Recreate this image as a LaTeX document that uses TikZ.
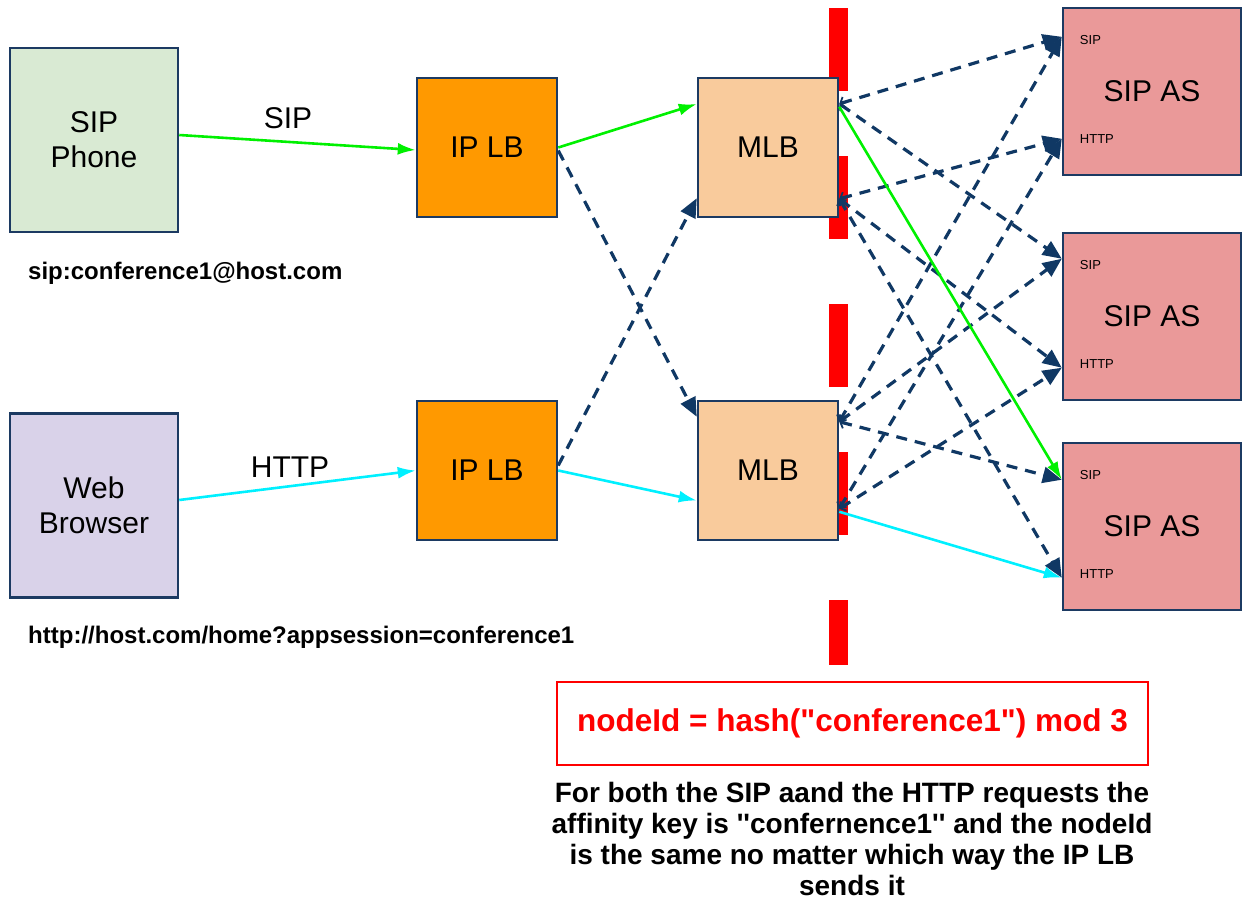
\documentclass[tikz,border=0pt]{standalone}
\usepackage{fontspec}
\setmainfont{Liberation Sans}[Ligatures=TeXOff]
\usetikzlibrary{arrows.meta,calc}

\definecolor{edgeblue}{RGB}{28,58,98}
\definecolor{linkblue}{RGB}{16,56,100}
\definecolor{phonefill}{RGB}{217,234,211}
\definecolor{webfill}{RGB}{217,210,233}
\definecolor{iplbfill}{RGB}{255,153,0}
\definecolor{mlbfill}{RGB}{249,203,156}
\definecolor{asfill}{RGB}{234,153,153}
\definecolor{sipgreen}{RGB}{0,240,0}
\definecolor{httpcyan}{RGB}{0,240,255}
\definecolor{keyred}{RGB}{255,0,0}

\tikzset{
  box/.style={draw=edgeblue, line width=2.5pt, align=center,
    font=\fontsize{30}{35}\selectfont, inner sep=0pt},
  clientbox/.style={box, minimum width=168pt, minimum height=184pt},
  lbbox/.style={box, fill=iplbfill, minimum width=140pt, minimum height=139pt},
  mlbbox/.style={box, fill=mlbfill, minimum width=140pt, minimum height=139pt},
  asbox/.style={box, fill=asfill, minimum width=178pt, minimum height=167pt},
  portlbl/.style={anchor=west, inner sep=0pt, font=\fontsize{13}{13}\selectfont},
  flowlbl/.style={inner sep=0pt, font=\fontsize{30}{30}\selectfont},
  addrlbl/.style={anchor=west, inner sep=0pt, font=\bfseries\fontsize{24}{24}\selectfont},
  sipflow/.style={draw=sipgreen, line width=2.6pt, -{Latex[length=18pt,width=12pt]}},
  httpflow/.style={draw=httpcyan, line width=2.6pt, -{Latex[length=18pt,width=12pt]}},
  altflow/.style={draw=linkblue, line width=3.2pt, dash pattern=on 11pt off 8pt,
    -{Triangle[length=19pt,width=16pt]}},
  asflow/.style={altflow, {Straight Barb[length=4pt,width=11pt,line width=1.8pt]}-{Triangle[length=19pt,width=16pt]}},
  redbar/.style={draw=keyred, line width=19pt, dash pattern=on 83pt off 65pt},
}

\begin{document}
\begin{tikzpicture}[x=1pt,y=-1pt]
\useasboundingbox (0,0) rectangle (1244,903);

% partition marker behind the MLB column
\draw[redbar] (838.5,8) -- (838.5,665);

% clients
\node[clientbox, fill=phonefill] (phone) at (94,140) {SIP\\Phone};
\node[clientbox, fill=webfill] (web) at (94,505.5) {Web\\Browser};

% IP load balancers
\node[lbbox] (iplb1) at (487,147.5) {IP LB};
\node[lbbox] (iplb2) at (487,470.5) {IP LB};

% message load balancers
\node[mlbbox] (mlb1) at (768,147.5) {MLB};
\node[mlbbox] (mlb2) at (768,470.5) {MLB};

% application servers
\node[asbox] (as1) at (1152,91.5) {SIP AS};
\node[asbox] (as2) at (1152,316.5) {SIP AS};
\node[asbox] (as3) at (1152,526.5) {SIP AS};

\foreach \s in {as1,as2,as3}{
  \node[portlbl] (\s sl) at ($(\s.north west)+(18,33)$) {SIP};
  \node[portlbl] (\s hl) at ($(\s.north west)+(18,132)$) {HTTP};
}

% port coordinates
\coordinate (as1sip)  at ($(as1.north west)+(0,30)$);
\coordinate (as1http) at ($(as1.north west)+(0,132)$);
\coordinate (as2sip)  at ($(as2.north west)+(0,27)$);
\coordinate (as2http) at ($(as2.north west)+(0,136)$);
\coordinate (as3sip)  at ($(as3.north west)+(0,38)$);
\coordinate (as3http) at ($(as3.north west)+(0,136)$);

\coordinate (m1s) at ($(mlb1.north east)+(0,27)$);
\coordinate (m1h) at ($(mlb1.north east)+(0,122)$);
\coordinate (m2s) at ($(mlb2.north east)+(0,22)$);
\coordinate (m2h) at ($(mlb2.north east)+(0,109)$);

% alternative IP LB routes
\draw[altflow] ([yshift=-3pt]iplb1.east) -- ([yshift=-17pt]mlb2.north west);
\draw[altflow] ([yshift=5pt]iplb2.east) -- ([yshift=20pt]mlb1.south west);

% MLB to application server routes
\draw[asflow] (m1s) -- (as1sip);
\draw[asflow] (m1s) -- (as2sip);
\draw[asflow] (m1h) -- (as1http);
\draw[asflow] (m1h) -- (as2http);
\draw[asflow] (m1h) -- (as3http);
\draw[asflow] (m2s) -- (as1sip);
\draw[asflow] (m2s) -- (as2sip);
\draw[asflow] (m2s) -- (as3sip);
\draw[asflow] (m2h) -- (as1http);
\draw[asflow] (m2h) -- (as2http);

% SIP request path
\draw[sipflow] ([yshift=5pt]phone.east) -- ([yshift=-2.5pt]iplb1.west);
\draw[sipflow] (iplb1.east) -- ([yshift=43.5pt]mlb1.west);
\draw[sipflow] ($(mlb1.north east)+(0,30)$) -- (as3sip);

% HTTP request path
\draw[httpflow] ([yshift=5.5pt]web.east) -- (iplb2.west);
\draw[httpflow] (iplb2.east) -- ([yshift=-30pt]mlb2.west);
\draw[httpflow] ($(mlb2.north east)+(0,112)$) -- (as3http);

% flow labels
\node[flowlbl] (siplbl) at (288,118) {SIP};
\node[flowlbl] (httplbl) at (290,467) {HTTP};

% addresses
\node[addrlbl] (sipaddr) at (28,273) {sip:conference1@host.com};
\node[addrlbl] (httpaddr) at (28,637) {http://host.com/home?appsession=conference1};

% affinity key
\node[draw=keyred, line width=2.5pt, minimum width=591pt, minimum height=83pt,
  text=keyred, font=\bfseries\fontsize{31.5}{31.5}\selectfont] (key) at (852.5,723.5)
  {nodeId = hash("conference1") mod 3};
\node[align=center, inner sep=0pt, font=\bfseries\fontsize{28}{31}\selectfont,
  anchor=north] (note) at (852,782)
  {For both the SIP aand the HTTP requests the\\
   affinity key is ''confernence1'' and the nodeId\\
   is the same no matter which way the IP LB\\
   sends it};
\end{tikzpicture}
\end{document}
